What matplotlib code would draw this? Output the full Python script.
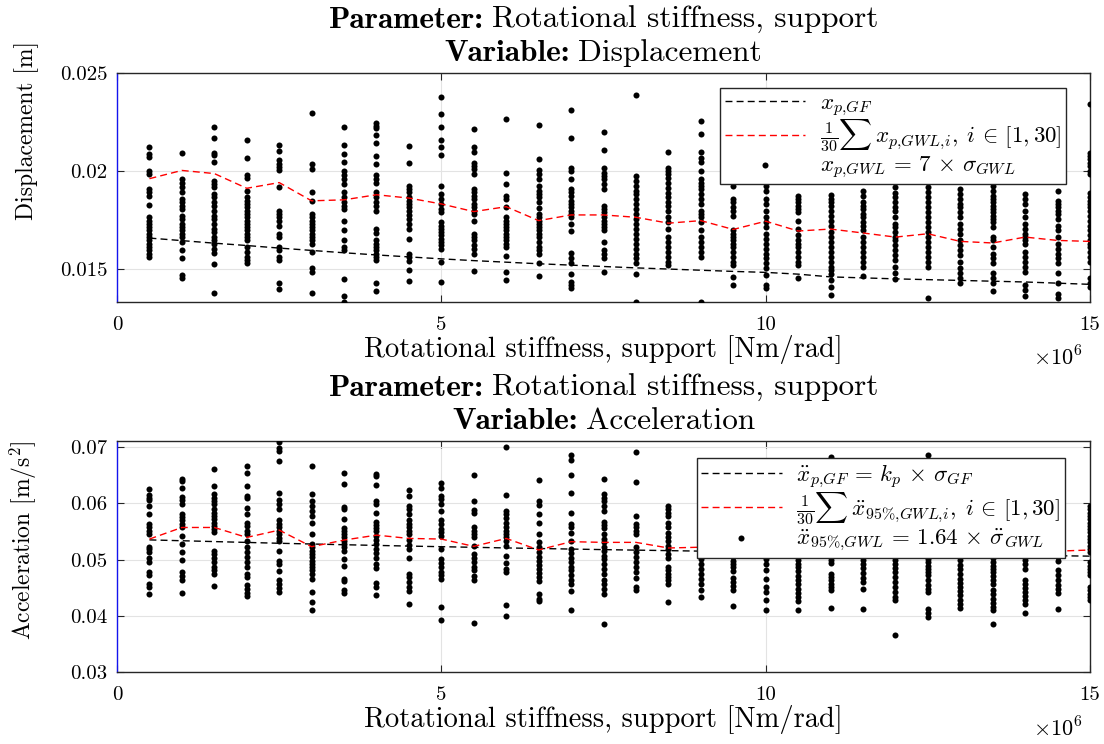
import matplotlib.pyplot as plt
from matplotlib.ticker import FuncFormatter
from matplotlib.offsetbox import TextArea, HPacker, VPacker, AnchoredOffsetbox

plt.rcParams['font.family'] = 'cmr10'
plt.rcParams['mathtext.fontset'] = 'cm'
plt.rcParams['axes.formatter.use_mathtext'] = True

# Rotational stiffness of the support, in 1e6 Nm/rad
stiffness = [0.5, 1.0, 1.5, 2.0, 2.5, 3.0, 3.5, 4.0, 4.5, 5.0,
             5.5, 6.0, 6.5, 7.0, 7.5, 8.0, 8.5, 9.0, 9.5, 10.0,
             10.5, 11.0, 11.5, 12.0, 12.5, 13.0, 13.5, 14.0, 14.5, 15.0]

# Displacement [m]
disp_gf = [0.01658, 0.01645, 0.01632, 0.0162, 0.01607, 0.01595, 0.01583, 0.01572, 0.01562, 0.01552,
           0.01543, 0.01535, 0.01527, 0.0152, 0.01513, 0.01506, 0.015, 0.01494, 0.01488, 0.01483,
           0.01474, 0.0146, 0.01455, 0.0145, 0.01446, 0.01442, 0.01438, 0.01434, 0.01428, 0.01422]
disp_mean = [0.01961, 0.02003, 0.01987, 0.01912, 0.01941, 0.01848, 0.01853, 0.01879, 0.01862, 0.01832,
             0.01793, 0.01818, 0.01747, 0.01776, 0.01776, 0.01764, 0.01734, 0.01747, 0.01702, 0.01744,
             0.01694, 0.01704, 0.01684, 0.01663, 0.0168, 0.01641, 0.01633, 0.01663, 0.01646, 0.01641]
disp_gwl = [
    [0.02121, 0.02088, 0.02071, 0.0200, 0.01983, 0.01907, 0.01891, 0.01874, 0.01828, 0.01764, 0.01747,
     0.0173, 0.01714, 0.01697, 0.0168, 0.01663, 0.01646, 0.0163, 0.01613, 0.01596, 0.01579, 0.01562],
    [0.02093, 0.01958, 0.01941, 0.01916, 0.01891, 0.01857, 0.0184, 0.01823, 0.01806, 0.01773, 0.01756,
     0.01731, 0.01714, 0.01697, 0.0168, 0.01663, 0.01638, 0.01596, 0.01557, 0.0147, 0.01453],
    [0.02222, 0.02168, 0.02093, 0.02081, 0.02047, 0.01949, 0.01933, 0.01916, 0.01882, 0.01865, 0.0184,
     0.01823, 0.01798, 0.01773, 0.01756, 0.01731, 0.01705, 0.01689, 0.01663, 0.01646, 0.0163, 0.01604,
     0.01582, 0.01525, 0.0138],
    [0.0216, 0.02067, 0.0198, 0.01963, 0.01896, 0.01865, 0.01848, 0.01832, 0.01815, 0.01798, 0.01781,
     0.01764, 0.01747, 0.01731, 0.01714, 0.01697, 0.0168, 0.01663, 0.01646, 0.01613, 0.01588, 0.01562,
     0.01545, 0.01529],
    [0.02131, 0.02101, 0.02054, 0.02037, 0.0202, 0.02003, 0.01916, 0.01798, 0.01781, 0.01764, 0.01747,
     0.01722, 0.0168, 0.01663, 0.01613, 0.01596, 0.01562, 0.01545, 0.01431, 0.01397],
    [0.02295, 0.02037, 0.02008, 0.01891, 0.01848, 0.01781, 0.01764, 0.01747, 0.01731, 0.01714, 0.01697,
     0.0168, 0.01663, 0.01646, 0.0163, 0.01588, 0.01503, 0.01487, 0.01377],
    [0.02227, 0.02131, 0.02088, 0.02047, 0.0200, 0.0198, 0.01958, 0.01936, 0.01891, 0.01865, 0.0184,
     0.01823, 0.01806, 0.01747, 0.017, 0.01646, 0.01613, 0.01596, 0.0145, 0.01365, 0.0133],
    [0.02244, 0.02232, 0.02219, 0.02185, 0.02143, 0.02076, 0.02034, 0.0198, 0.01958, 0.01941, 0.01891,
     0.01865, 0.0184, 0.01823, 0.01798, 0.01705, 0.01684, 0.01646, 0.0163, 0.01613, 0.01596, 0.01579,
     0.01559, 0.01545, 0.01428, 0.01386],
    [0.0213, 0.02042, 0.01924, 0.01907, 0.01891, 0.01869, 0.01848, 0.01832, 0.01815, 0.01798, 0.01778,
     0.01756, 0.01731, 0.01705, 0.01655, 0.01579, 0.01562, 0.01542, 0.01495, 0.01439],
    [0.02375, 0.02291, 0.02224, 0.0216, 0.02121, 0.02081, 0.01924, 0.01882, 0.01857, 0.01832, 0.01806,
     0.0179, 0.01739, 0.01722, 0.01705, 0.01689, 0.01672, 0.01655, 0.01638, 0.01621, 0.01604, 0.01537,
     0.01436],
    [0.02214, 0.02121, 0.02098, 0.02042, 0.02025, 0.02008, 0.01987, 0.01907, 0.01891, 0.01874, 0.01857,
     0.01832, 0.01815, 0.01798, 0.01781, 0.01747, 0.0168, 0.01663, 0.01646, 0.01621, 0.01601, 0.01579,
     0.0149],
    [0.02264, 0.01992, 0.01933, 0.01874, 0.01857, 0.01815, 0.01764, 0.01747, 0.01731, 0.01714, 0.01697,
     0.0168, 0.01663, 0.01646, 0.0163, 0.01613, 0.01566, 0.01483, 0.01444],
    [0.02236, 0.02062, 0.02003, 0.01983, 0.01958, 0.01924, 0.01899, 0.01882, 0.01865, 0.0184, 0.01811,
     0.01781, 0.01764, 0.01747, 0.01731, 0.01714, 0.01697, 0.0168, 0.01663, 0.01638, 0.01613, 0.01596,
     0.01579, 0.01532, 0.01466],
    [0.02311, 0.02168, 0.02017, 0.0200, 0.01958, 0.01907, 0.01891, 0.01874, 0.01848, 0.01832, 0.01815,
     0.01798, 0.01781, 0.01764, 0.01731, 0.01694, 0.01582, 0.01554, 0.01532, 0.01475, 0.01436, 0.0142,
     0.01402],
    [0.02199, 0.02106, 0.02017, 0.01992, 0.01975, 0.01958, 0.01933, 0.01907, 0.01823, 0.01806, 0.0179,
     0.01764, 0.01747, 0.01731, 0.01714, 0.01697, 0.01638, 0.01596, 0.01579, 0.01554, 0.01487],
    [0.02387, 0.01975, 0.01949, 0.01924, 0.01899, 0.01882, 0.01857, 0.01832, 0.01806, 0.01781, 0.01756,
     0.01731, 0.01705, 0.0168, 0.01655, 0.0163, 0.01604, 0.01579, 0.01554, 0.01529, 0.01475, 0.0133],
    [0.02096, 0.02017, 0.0200, 0.01983, 0.01963, 0.01941, 0.01912, 0.01886, 0.01865, 0.0184, 0.01823,
     0.01798, 0.01764, 0.01739, 0.01705, 0.01663, 0.01638, 0.01613, 0.01588, 0.01562, 0.01537, 0.0152],
    [0.02253, 0.02189, 0.02098, 0.02064, 0.02047, 0.0200, 0.01958, 0.01941, 0.01924, 0.01907, 0.01882,
     0.01857, 0.01832, 0.01798, 0.01781, 0.01764, 0.01739, 0.01697, 0.01663, 0.01638, 0.01613, 0.01588,
     0.01559, 0.0133],
    [0.01924, 0.01857, 0.0184, 0.01815, 0.01798, 0.01773, 0.01697, 0.0168, 0.01663, 0.01646, 0.0163,
     0.01613, 0.01588, 0.01562, 0.01537, 0.0152, 0.01461, 0.01419],
    [0.01924, 0.01899, 0.01857, 0.01832, 0.01798, 0.01764, 0.01739, 0.01714, 0.0168, 0.01655, 0.0163,
     0.01604, 0.01579, 0.01554, 0.01529, 0.01503, 0.0147, 0.01419, 0.01402],
    [0.01874, 0.01857, 0.0184, 0.01823, 0.01806, 0.0179, 0.01744, 0.01705, 0.01672, 0.01646, 0.0163,
     0.01613, 0.01588, 0.01562, 0.01537, 0.0152, 0.01453],
    [0.01879, 0.01857, 0.0184, 0.01823, 0.01798, 0.01773, 0.01747, 0.01722, 0.01689, 0.01663, 0.01638,
     0.01613, 0.01588, 0.01562, 0.01537, 0.01512, 0.01495, 0.01475, 0.01444, 0.01411, 0.01369],
    [0.01896, 0.01874, 0.0184, 0.01823, 0.01806, 0.01781, 0.01764, 0.01739, 0.01722, 0.01697, 0.01663,
     0.01638, 0.01613, 0.01588, 0.01562, 0.01537, 0.01512, 0.01465],
    [0.01916, 0.01886, 0.01865, 0.0184, 0.01815, 0.01798, 0.01764, 0.01731, 0.01714, 0.01689, 0.01663,
     0.01646, 0.01621, 0.01596, 0.01571, 0.01545, 0.01512, 0.01478, 0.01448],
    [0.01916, 0.01891, 0.01865, 0.0184, 0.01815, 0.0179, 0.01764, 0.01739, 0.01714, 0.01689, 0.01663,
     0.01638, 0.01613, 0.01588, 0.01562, 0.01537, 0.01512, 0.01352],
    [0.01907, 0.01882, 0.01857, 0.01832, 0.01815, 0.0179, 0.01764, 0.01731, 0.01705, 0.0168, 0.01646,
     0.01621, 0.01596, 0.01571, 0.01537, 0.01503, 0.01478, 0.01453, 0.01428],
    [0.01924, 0.01899, 0.01874, 0.01857, 0.0184, 0.01823, 0.01806, 0.0179, 0.01773, 0.01756, 0.01739,
     0.01714, 0.01663, 0.01646, 0.01613, 0.01579, 0.01554, 0.01529, 0.01478, 0.01453, 0.01428, 0.01386],
    [0.01882, 0.01857, 0.01832, 0.01798, 0.01764, 0.01731, 0.01705, 0.0168, 0.01663, 0.01646, 0.0163,
     0.01588, 0.01562, 0.01537, 0.01512, 0.01487, 0.01419, 0.01394, 0.01364],
    [0.01896, 0.01848, 0.01832, 0.01815, 0.01798, 0.01781, 0.01756, 0.01722, 0.01697, 0.01663, 0.0163,
     0.01604, 0.01579, 0.01554, 0.01529, 0.01482, 0.01428, 0.01374, 0.01352],
    [0.02342, 0.02093, 0.02076, 0.02059, 0.02042, 0.02025, 0.0200, 0.01983, 0.01886, 0.01865, 0.01848,
     0.01832, 0.01815, 0.01798, 0.01773, 0.01747, 0.01722, 0.01697, 0.01672, 0.01646, 0.0163, 0.01613,
     0.01588, 0.01562, 0.01537, 0.01453, 0.01428, 0.01411],
]

# Acceleration [m/s^2]
acc_gf = [0.0535, 0.05335, 0.0532, 0.05305, 0.0529, 0.05277, 0.05264, 0.05252, 0.0524, 0.05229,
          0.05218, 0.05207, 0.05197, 0.05187, 0.05177, 0.05168, 0.05159, 0.0515, 0.05142, 0.05134,
          0.05126, 0.05118, 0.0511, 0.05103, 0.05096, 0.05089, 0.05082, 0.05075, 0.05068, 0.05061]
acc_mean = [0.05365, 0.05571, 0.05571, 0.05394, 0.05524, 0.05229, 0.05347, 0.05435, 0.05376, 0.05365,
            0.05235, 0.05376, 0.05171, 0.05318, 0.05306, 0.05306, 0.05206, 0.0522, 0.0519, 0.0523,
            0.0518, 0.0521, 0.0517, 0.052, 0.0516, 0.0519, 0.0515, 0.0518, 0.0515, 0.0517]
acc_gwl = [
    [0.06247, 0.06141, 0.061, 0.06053, 0.05953, 0.05818, 0.05629, 0.05582, 0.05512, 0.05453, 0.05229,
     0.05188, 0.05129, 0.05029, 0.04953, 0.04776, 0.04718, 0.04571, 0.04512, 0.04382],
    [0.06441, 0.06394, 0.06276, 0.06112, 0.06053, 0.05982, 0.05806, 0.05759, 0.057, 0.05641, 0.05582,
     0.05424, 0.05276, 0.05129, 0.04994, 0.04776, 0.047, 0.04629, 0.04412],
    [0.06618, 0.06306, 0.06159, 0.061, 0.06041, 0.05982, 0.05894, 0.05835, 0.05776, 0.05718, 0.05659,
     0.056, 0.05541, 0.05482, 0.05159, 0.051, 0.05029, 0.04953, 0.04876, 0.04806, 0.04735, 0.04535],
    [0.06659, 0.06541, 0.06306, 0.06129, 0.061, 0.05924, 0.05806, 0.05659, 0.056, 0.05512, 0.05453,
     0.05324, 0.05218, 0.05129, 0.05041, 0.04953, 0.04865, 0.04747, 0.04688, 0.04541, 0.04482, 0.04406,
     0.04347],
    [0.07088, 0.06982, 0.06924, 0.06759, 0.06188, 0.06053, 0.05982, 0.05894, 0.057, 0.05629, 0.05571,
     0.05512, 0.05453, 0.05382, 0.05324, 0.05147, 0.04982, 0.04924, 0.04794, 0.04629, 0.04571, 0.045,
     0.04424],
    [0.06659, 0.06159, 0.06041, 0.05953, 0.05865, 0.05776, 0.05659, 0.05453, 0.05276, 0.05218, 0.05159,
     0.051, 0.05041, 0.04982, 0.04924, 0.04865, 0.04806, 0.04747, 0.04659, 0.04424, 0.04247, 0.041],
    [0.06541, 0.06353, 0.05935, 0.05894, 0.05729, 0.05559, 0.05512, 0.05453, 0.05394, 0.05335, 0.05276,
     0.05218, 0.05147, 0.05012, 0.04894, 0.04659, 0.04618, 0.04465, 0.04406],
    [0.06529, 0.06482, 0.06318, 0.06041, 0.05982, 0.05835, 0.05676, 0.05618, 0.05559, 0.055, 0.05424,
     0.05347, 0.05276, 0.05188, 0.05112, 0.05029, 0.04924, 0.04853, 0.04582, 0.04512, 0.04365],
    [0.06229, 0.06129, 0.05953, 0.05894, 0.05806, 0.057, 0.05641, 0.05582, 0.05512, 0.05453, 0.05347,
     0.05265, 0.05188, 0.05029, 0.04747, 0.04688, 0.046, 0.04512, 0.04441, 0.04218],
    [0.06365, 0.06265, 0.06129, 0.06071, 0.05982, 0.05865, 0.057, 0.05641, 0.05541, 0.05482, 0.05424,
     0.05188, 0.05012, 0.04935, 0.04865, 0.04776, 0.04718, 0.04659, 0.04159, 0.03924],
    [0.065, 0.06041, 0.05876, 0.05835, 0.05571, 0.05512, 0.05453, 0.05394, 0.05247, 0.051, 0.05029,
     0.04953, 0.04876, 0.04806, 0.047, 0.04629, 0.03876],
    [0.06994, 0.06141, 0.05865, 0.05806, 0.05747, 0.05659, 0.05571, 0.05512, 0.05453, 0.05394, 0.05335,
     0.05247, 0.05071, 0.04935, 0.04835, 0.04776, 0.042, 0.03994],
    [0.06424, 0.06041, 0.05971, 0.05818, 0.05659, 0.05453, 0.05306, 0.05218, 0.05129, 0.05053, 0.04982,
     0.04912, 0.04835, 0.04759, 0.04688, 0.04618, 0.04382, 0.04306, 0.04259],
    [0.06853, 0.06776, 0.06512, 0.06188, 0.05835, 0.05629, 0.05571, 0.05465, 0.05335, 0.05188, 0.05112,
     0.05029, 0.04953, 0.04876, 0.04806, 0.04718, 0.04629, 0.04559, 0.04441, 0.041],
    [0.06441, 0.06171, 0.061, 0.06041, 0.05953, 0.05865, 0.05676, 0.05618, 0.05559, 0.05453, 0.05365,
     0.05306, 0.05218, 0.05159, 0.05071, 0.05012, 0.04924, 0.04835, 0.04747, 0.04629, 0.04571, 0.04482,
     0.04394, 0.03853],
    [0.06912, 0.06382, 0.05776, 0.05629, 0.05571, 0.055, 0.05453, 0.05218, 0.05129, 0.05041, 0.04953,
     0.04865, 0.04776, 0.04676, 0.04512, 0.04453],
    [0.05953, 0.05894, 0.05835, 0.05776, 0.05659, 0.05571, 0.05465, 0.05394, 0.05324, 0.05247, 0.05188,
     0.051, 0.05029, 0.04876, 0.04806, 0.04747, 0.04688, 0.04629, 0.04559, 0.04247],
    [0.051, 0.05012, 0.04924, 0.04835, 0.04747, 0.04659, 0.04571, 0.04453, 0.04335],
    [0.051, 0.05041, 0.04982, 0.04924, 0.04865, 0.04794, 0.04676, 0.046, 0.04524, 0.04453, 0.04171],
    [0.05088, 0.05012, 0.04924, 0.04806, 0.04659, 0.04512, 0.04424, 0.04288, 0.041],
    [0.05053, 0.04994, 0.04924, 0.04865, 0.04794, 0.047, 0.04629, 0.04559, 0.04482, 0.04406, 0.04335,
     0.04265, 0.041],
    [0.0682, 0.05088, 0.04994, 0.04935, 0.04747, 0.04688, 0.04629, 0.04571, 0.04512, 0.04453, 0.04147],
    [0.05071, 0.04994, 0.04924, 0.04853, 0.04759, 0.04676, 0.046, 0.04482, 0.04129],
    [0.05071, 0.04994, 0.04924, 0.04853, 0.04776, 0.04688, 0.046, 0.04512, 0.04424, 0.04335, 0.04276,
     0.03659],
    [0.06865, 0.05071, 0.05012, 0.04953, 0.04894, 0.04835, 0.04776, 0.04718, 0.04629, 0.04541, 0.04482,
     0.04424, 0.04129, 0.04041, 0.03982],
    [0.05071, 0.04994, 0.04912, 0.04835, 0.04747, 0.04659, 0.04582, 0.04512, 0.04441, 0.04365, 0.04288,
     0.04218, 0.04147],
    [0.051, 0.05029, 0.04953, 0.04894, 0.04835, 0.04776, 0.047, 0.04629, 0.04559, 0.04465, 0.04382,
     0.04306, 0.04229, 0.04159, 0.041, 0.03853],
    [0.05071, 0.04994, 0.04924, 0.04835, 0.04629, 0.04571, 0.045, 0.04424, 0.04347, 0.04276, 0.04206,
     0.04041],
    [0.05053, 0.04982, 0.04806, 0.04718, 0.04629, 0.04541, 0.04482, 0.04406, 0.04112],
    [0.05953, 0.05894, 0.05835, 0.05776, 0.05718, 0.05659, 0.056, 0.05541, 0.05482, 0.05424, 0.05365,
     0.05306, 0.05247, 0.05188, 0.05129, 0.04953, 0.04894, 0.04835, 0.04776, 0.04718, 0.04512, 0.04453,
     0.04394, 0.04335, 0.04276],
]

TICK_FS = 15
XLABEL_FS = 20.5
YLABEL_FS = 17
TITLE_FS = 22.5
LEG_FS = 16.5
dash = (0, (5, 3))


def two_line_title(ax, variable):
    bold = dict(family='cmb10', size=TITLE_FS)
    reg = dict(family='cmr10', size=TITLE_FS)
    line1 = HPacker(children=[TextArea('Parameter:', textprops=bold),
                              TextArea('Rotational stiffness, support', textprops=reg)],
                    align='baseline', pad=0, sep=6)
    line2 = HPacker(children=[TextArea('Variable:', textprops=bold),
                              TextArea(variable, textprops=reg)],
                    align='baseline', pad=0, sep=6)
    block = VPacker(children=[line1, line2], align='center', pad=0, sep=4)
    box = AnchoredOffsetbox(loc='lower center', child=block, pad=0, borderpad=0.4,
                            frameon=False, bbox_to_anchor=(0.5, 1.0),
                            bbox_transform=ax.transAxes)
    ax.add_artist(box)


def panel(ax, gf, mean, runs, ylim, yticks, variable, ylabel, ylabel_y, labels, legend_xy):
    k = [s * 1e6 for s in stiffness]
    xs = [ki for ki, col in zip(k, runs) for _ in col]
    ys = [v for col in runs for v in col]
    ax.plot(k, gf, color='k', ls=dash, lw=1.0, zorder=4, label=labels[0])
    ax.plot(k, mean, color='r', ls=dash, lw=1.0, zorder=4, label=labels[1])
    ax.scatter(xs, ys, s=19, color='k', linewidths=0, zorder=3, label=labels[2])

    ax.set_xlim(0, 15e6)
    ax.set_ylim(*ylim)
    ax.set_xticks([0, 5e6, 10e6, 15e6])
    ax.set_yticks(yticks)
    ax.xaxis.set_major_formatter(FuncFormatter(lambda v, p: '%g' % (v / 1e6)))
    ax.yaxis.set_major_formatter(FuncFormatter(lambda v, p: '%g' % v))
    ax.text(0.992, -0.243, r'$\times10^{6}$', transform=ax.transAxes,
            ha='right', va='center', fontsize=16)

    ax.grid(True, color='#e3e3e3', lw=0.8, zorder=0)
    ax.set_axisbelow(True)
    ax.tick_params(direction='in', top=True, right=True, length=5, width=0.8,
                   labelsize=TICK_FS, color='#262626')
    ax.tick_params(axis='x', pad=10)
    ax.tick_params(axis='y', pad=7)
    for side in ['top', 'right', 'bottom']:
        ax.spines[side].set_color('#262626')
        ax.spines[side].set_linewidth(1.0)
    ax.spines['left'].set_color('#1414ee')
    ax.spines['left'].set_linewidth(1.0)

    ax.set_xlabel('Rotational stiffness, support [Nm/rad]', fontsize=XLABEL_FS, labelpad=1)
    ax.set_ylabel(ylabel, fontsize=YLABEL_FS)
    ax.yaxis.set_label_coords(-0.08, ylabel_y)
    two_line_title(ax, variable)

    leg = ax.legend(loc='upper right', bbox_to_anchor=legend_xy, fontsize=LEG_FS,
                    scatterpoints=1, handlelength=3.5, handletextpad=0.65,
                    labelspacing=0.0, borderpad=0.2, borderaxespad=0,
                    fancybox=False, framealpha=1, edgecolor='#262626')
    leg.get_frame().set_linewidth(1.0)
    leg.set_zorder(10)


fig = plt.figure(figsize=(11.04, 7.44), dpi=100)
ax1 = fig.add_axes([0.106, 0.5941, 0.8813, 0.3078])
ax2 = fig.add_axes([0.106, 0.0968, 0.8813, 0.3105])

panel(ax1, disp_gf, disp_mean, disp_gwl, (0.01332, 0.025), [0.015, 0.02, 0.025],
      'Displacement', 'Displacement [m]', 0.75,
      [r'$x_{p{,}GF}$',
       r'$\frac{1}{30}\sum\, x_{p{,}GWL{,}i},\; i \,\in\, [1,30]$',
       r'$x_{p{,}GWL} \,=\, 7 \,\times\, \sigma_{GWL}$'],
      (0.9753, 0.9345))

panel(ax2, acc_gf, acc_mean, acc_gwl, (0.03, 0.0711), [0.03, 0.04, 0.05, 0.06, 0.07],
      'Acceleration', r'Acceleration [m/s$^2$]', 0.57,
      [r'$\ddot{x}_{p{,}GF} \,=\, k_p \,\times\, \sigma_{GF}$',
       r'$\frac{1}{30}\sum\, \ddot{x}_{95\%{,}GWL{,}i},\; i \,\in\, [1,30]$',
       r'$\ddot{x}_{95\%{,}GWL} \,=\, 1.64 \,\times\, \ddot{\sigma}_{GWL}$'],
      (0.9743, 0.926))

fig.savefig('out.png', dpi=100)
